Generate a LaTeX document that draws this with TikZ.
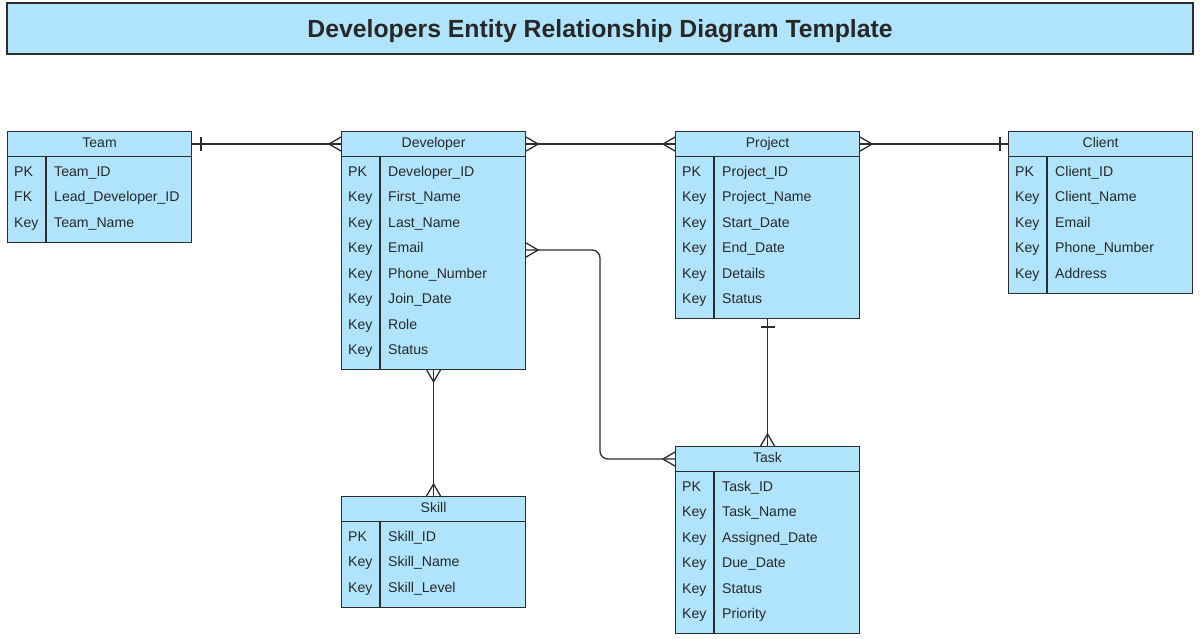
\documentclass[tikz,border=0pt]{standalone}
\usepackage{fontspec}
\setmainfont{Liberation Sans}
\usetikzlibrary{calc}
\definecolor{erfill}{RGB}{176,228,252}
\definecolor{erline}{RGB}{45,45,45}
\definecolor{ertext}{RGB}{40,40,40}
\tikzset{
  ebox/.style={draw=erline, fill=erfill, line width=1.1pt, inner sep=0pt, minimum width=184pt, anchor=north west},
  ehead/.style={ebox, minimum height=25pt, text=ertext, text height=10pt, text depth=3pt, font=\fontsize{14}{16}\selectfont},
  etxt/.style={anchor=west, inner sep=0pt, text height=10pt, text depth=3pt, text=ertext, font=\fontsize{14.1}{16}\selectfont},
  conn/.style={draw=erline, line width=1.3pt},
  ftitle/.style={draw=erline, fill=erfill, line width=1.1pt, inner sep=0pt, text=ertext, text depth=0pt, font=\fontsize{24.8}{28}\selectfont\bfseries}
}
% #1 name, #2 left x, #3 top y, #4 number of rows, #5 title, #6 rows key/field
\newcommand\erentity[6]{%
  \node[ebox, minimum height={9.5+25.4*#4}] (#1) at (#2,{#3+25}) {};
  \node[ehead] (#1-h) at (#2,#3) {#5};
  \draw[erline, line width=1.1pt] ($(#1.north west)+(39,0)$) -- ($(#1.south west)+(39,0)$);
  \foreach \k/\f [count=\i] in {#6} {
    \node[etxt] (#1-k\i) at ({#2+7},{#3+41.8+25.5*(\i-1)}) {\k};
    \node[etxt] (#1-f\i) at ({#2+47},{#3+41.8+25.5*(\i-1)}) {\f};
  }%
}
\begin{document}
\begin{tikzpicture}[x=1pt, y=-1pt]
\useasboundingbox[fill=white] (0,0) rectangle (1200,638);
\node[ftitle, minimum width=1186pt, minimum height=51pt] (title) at (600,28.5) {Developers Entity Relationship Diagram Template};

\erentity{team}{7}{131}{3}{Team}{PK/Team\_ID, FK/Lead\_Developer\_ID, Key/Team\_Name}
\erentity{dev}{341}{131}{8}{Developer}{PK/Developer\_ID, Key/First\_Name, Key/Last\_Name, Key/Email, Key/Phone\_Number, Key/Join\_Date, Key/Role, Key/Status}
\erentity{proj}{675}{131}{6}{Project}{PK/Project\_ID, Key/Project\_Name, Key/Start\_Date, Key/End\_Date, Key/Details, Key/Status}
\erentity{client}{1008}{131}{5}{Client}{PK/Client\_ID, Key/Client\_Name, Key/Email, Key/Phone\_Number, Key/Address}
\erentity{skill}{341}{496}{3}{Skill}{PK/Skill\_ID, Key/Skill\_Name, Key/Skill\_Level}
\erentity{task}{675}{446}{6}{Task}{PK/Task\_ID, Key/Task\_Name, Key/Assigned\_Date, Key/Due\_Date, Key/Status, Key/Priority}

% Team -- Developer
\draw[conn] (team-h.east) -- (dev-h.west);
\draw[conn] ($(team-h.east)+(9,-7)$) -- ($(team-h.east)+(9,7)$);
\draw[conn] ($(dev-h.west)+(0,-7)$) -- ($(dev-h.west)+(-12,0)$) -- ($(dev-h.west)+(0,7)$);

% Developer -- Project
\draw[conn] (dev-h.east) -- (proj-h.west);
\draw[conn] ($(dev-h.east)+(0,-7)$) -- ($(dev-h.east)+(12,0)$) -- ($(dev-h.east)+(0,7)$);
\draw[conn] ($(proj-h.west)+(0,-7)$) -- ($(proj-h.west)+(-12,0)$) -- ($(proj-h.west)+(0,7)$);

% Project -- Client
\draw[conn] (proj-h.east) -- (client-h.west);
\draw[conn] ($(proj-h.east)+(0,-7)$) -- ($(proj-h.east)+(12,0)$) -- ($(proj-h.east)+(0,7)$);
\draw[conn] ($(client-h.west)+(-8,-7)$) -- ($(client-h.west)+(-8,7)$);

% Developer -- Skill
\draw[conn] (dev.south) -- (skill-h.north);
\draw[conn] ($(dev.south)+(-7,0)$) -- ($(dev.south)+(0,12)$) -- ($(dev.south)+(7,0)$);
\draw[conn] ($(skill-h.north)+(-7,0)$) -- ($(skill-h.north)+(0,-12)$) -- ($(skill-h.north)+(7,0)$);

% Project -- Task
\draw[conn] (proj.south) -- (task-h.north);
\draw[conn] ($(proj.south)+(-7,8)$) -- ($(proj.south)+(7,8)$);
\draw[conn] ($(task-h.north)+(-7,0)$) -- ($(task-h.north)+(0,-12)$) -- ($(task-h.north)+(7,0)$);

% Developer -- Task
\coordinate (devT) at ($(dev.north east)+(0,94)$);
\coordinate (bend) at (600,0);
\draw[conn, rounded corners=8pt] (devT) -| (bend |- task-h.west) -- (task-h.west);
\draw[conn] ($(devT)+(0,-7)$) -- ($(devT)+(12,0)$) -- ($(devT)+(0,7)$);
\draw[conn] ($(task-h.west)+(0,-7)$) -- ($(task-h.west)+(-12,0)$) -- ($(task-h.west)+(0,7)$);
\end{tikzpicture}
\end{document}
